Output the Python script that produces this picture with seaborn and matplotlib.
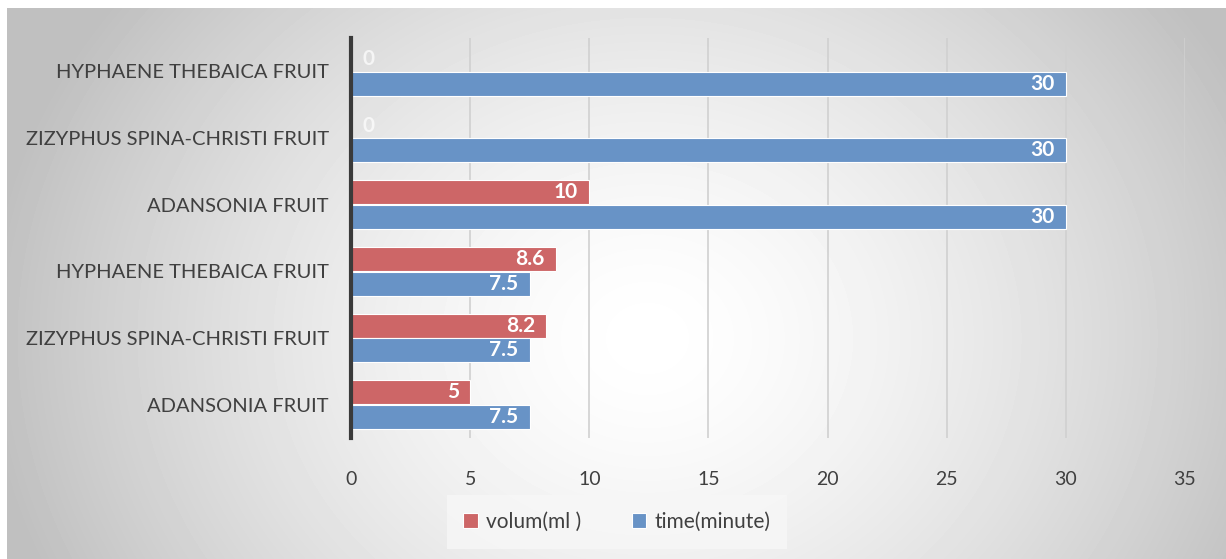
import numpy as np
import pandas as pd
import matplotlib
matplotlib.use("Agg")
import matplotlib.pyplot as plt
import seaborn as sns

categories = ["HYPHAENE THEBAICA FRUIT", "ZIZYPHUS SPINA-CHRISTI FRUIT", "ADANSONIA FRUIT",
              "HYPHAENE THEBAICA FRUIT", "ZIZYPHUS SPINA-CHRISTI FRUIT", "ADANSONIA FRUIT"]
volume = [0, 0, 10, 8.6, 8.2, 5]
time_min = [30, 30, 30, 7.5, 7.5, 7.5]
series = ["volum(ml )", "time(minute)"]
colors = ["#CD6667", "#6893C6"]
xticks = [0, 5, 10, 15, 20, 25, 30, 35]

sns.set_theme(style="white")
plt.rcParams["font.family"] = ["Lato", "DejaVu Sans"]

keys = [f"c{i}" for i in range(len(categories))]
df = pd.DataFrame({
    "key": keys * 2,
    "value": volume + time_min,
    "series": [series[0]] * len(keys) + [series[1]] * len(keys),
})

fig = plt.figure(figsize=(12.26, 5.59), dpi=100)

# background radial gradient
bg = fig.add_axes([7 / 1226, 0, 1 - 7 / 1226, 1 - 8 / 559])
bg.set_axis_off()
yy, xx = np.mgrid[0:551, 0:1219]
cx, cy = 640, 330
r = np.sqrt(((xx - cx) / 700) ** 2 + ((yy - cy) / 600) ** 2)
val = np.clip(1 - 0.27 * r ** 1.5, 0.75, 1.0)
bg.imshow(val, cmap="gray", vmin=0, vmax=1, aspect="auto", interpolation="bilinear")

ax = fig.add_axes([351 / 1226, 1 - 438 / 559, 834 / 1226, 400 / 559])
ax.set_facecolor("none")
sns.barplot(data=df, y="key", x="value", hue="series", order=keys, hue_order=series,
            palette=colors, orient="h", width=0.74, gap=0.04, ax=ax,
            edgecolor="white", linewidth=0.8, saturation=1, zorder=3)

ax.set_xlim(0, 35)
ax.set_ylim(5.5, -0.5)
ax.set_xticks(xticks)
ax.set_xticklabels([str(t) for t in xticks], fontsize=14, color="#404040")
ax.set_yticks(range(len(keys)))
ax.set_yticklabels(categories, fontsize=14.5, color="#404040")
ax.tick_params(axis="x", length=0, pad=24)
ax.tick_params(axis="y", length=0, pad=16)
ax.set_xlabel("")
ax.set_ylabel("")
ax.xaxis.grid(True, color="#D0D0D0", linewidth=1.2, zorder=0)
ax.set_axisbelow(True)
for s in ["top", "right", "bottom"]:
    ax.spines[s].set_visible(False)
ax.spines["left"].set_color("#3A3A3A")
ax.spines["left"].set_linewidth(3)
ax.spines["left"].set_zorder(5)

for cont in ax.containers:
    for bar in cont:
        v = bar.get_width()
        yc = bar.get_y() + bar.get_height() / 2
        lab = f"{v:g}"
        if v > 0:
            ax.annotate(lab, (v, yc), xytext=(-8, 0), textcoords="offset points",
                        ha="right", va="center", color="white", fontsize=15,
                        fontweight="bold", zorder=6)
        else:
            ax.annotate(lab, (v, yc), xytext=(8, 0), textcoords="offset points",
                        ha="left", va="center", color="white", fontsize=15,
                        fontweight="bold", zorder=6, alpha=0.7)

leg = ax.legend(loc="center", bbox_to_anchor=(617 / 1226, 1 - 522 / 559),
                bbox_transform=fig.transFigure, ncol=2, frameon=True, fontsize=15,
                handlelength=0.7, handleheight=0.7, handletextpad=0.4, columnspacing=2.4,
                borderpad=0.8, fancybox=False)
leg.get_frame().set_facecolor("#F7F7F7")
leg.get_frame().set_edgecolor("none")
for t in leg.get_texts():
    t.set_color("#404040")

fig.savefig("out.png", dpi=100)
